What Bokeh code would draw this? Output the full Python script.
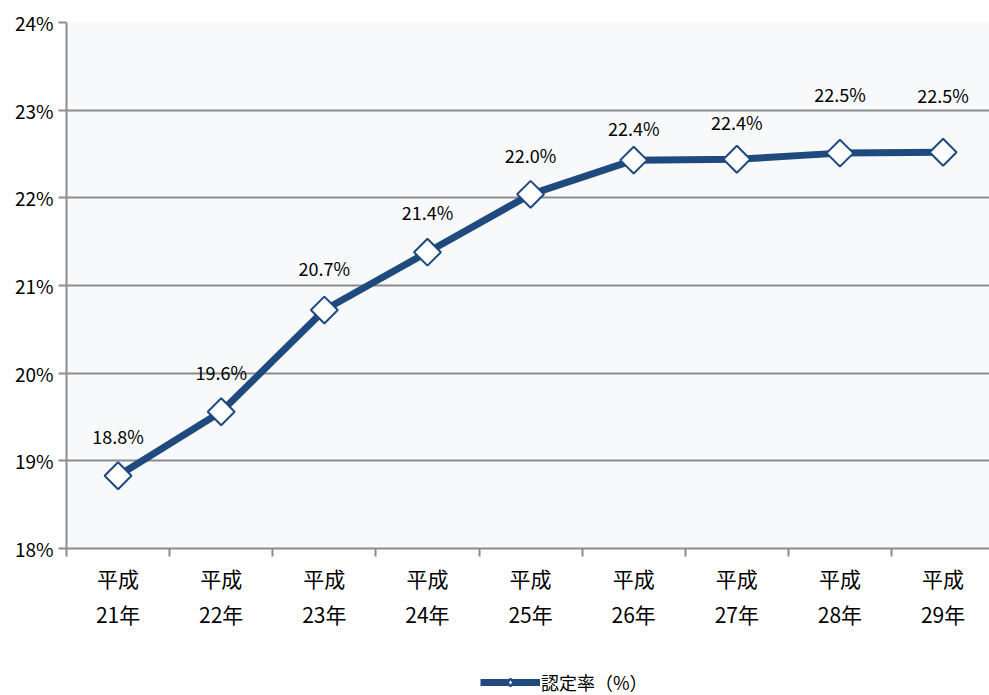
import math
from bokeh.plotting import figure
from bokeh.layouts import column
from bokeh.models import (ColumnDataSource, FixedTicker, PrintfTickFormatter, Range1d,
                          Legend, LegendItem)
from bokeh.core.properties import value
from bokeh.embed import file_html
from bokeh.resources import INLINE

# ---- data ----
categories = ["平成\n21年", "平成\n22年", "平成\n23年", "平成\n24年", "平成\n25年",
              "平成\n26年", "平成\n27年", "平成\n28年", "平成\n29年"]
rates = [18.83, 19.56, 20.72, 21.38, 22.04, 22.43, 22.44, 22.51, 22.52]
rate_labels = ["18.8%", "19.6%", "20.7%", "21.4%", "22.0%", "22.4%", "22.4%", "22.5%", "22.5%"]
y_ticks = [18, 19, 20, 21, 22, 23, 24]
series_name = "認定率（%）"

# ---- style ----
FONT = "Noto Sans CJK JP"
NAVY = "#1F4A7E"
GRID = "#8C8C8C"
label_offsets = [-40, -40, -42, -40, -39, -32, -37, -59, -57]

xs = list(range(1, len(categories) + 1))
src = ColumnDataSource(dict(x=xs, y=rates, lab=rate_labels, off=label_offsets))

p = figure(width=989, height=655, output_backend="svg", toolbar_location=None,
           x_range=Range1d(0.5, 9.45), y_range=Range1d(18, 24),
           min_border_left=66, min_border_top=22, min_border_right=0, min_border_bottom=107)

p.background_fill_color = "#F8F9FB"
p.border_fill_color = "white"
p.outline_line_color = None

# x axis
p.xaxis.ticker = FixedTicker(ticks=xs, minor_ticks=[i + 0.5 for i in range(0, len(xs) + 1)])
p.xaxis.major_label_overrides = {x: c for x, c in zip(xs, categories)}
p.xaxis.major_tick_out = 0
p.xaxis.major_tick_in = 0
p.xaxis.minor_tick_out = 8
p.xaxis.minor_tick_in = 0
p.xaxis.minor_tick_line_color = GRID
p.xaxis.minor_tick_line_width = 2
p.xaxis.axis_line_color = GRID
p.xaxis.axis_line_width = 2
p.xaxis.major_label_text_font = FONT
p.xaxis.major_label_text_font_size = "21px"
p.xaxis.major_label_text_color = "black"
p.xaxis.major_label_standoff = 6
p.xgrid.grid_line_color = None

# y axis
p.yaxis.ticker = FixedTicker(ticks=y_ticks, minor_ticks=[])
p.yaxis.formatter = PrintfTickFormatter(format="%d%%")
p.yaxis.major_tick_out = 8
p.yaxis.major_tick_in = 0
p.yaxis.major_tick_line_color = GRID
p.yaxis.major_tick_line_width = 2
p.yaxis.axis_line_color = GRID
p.yaxis.axis_line_width = 2
p.yaxis.major_label_text_font = FONT
p.yaxis.major_label_text_font_size = "19px"
p.yaxis.major_label_text_color = "black"
p.yaxis.major_label_standoff = 5
p.ygrid.grid_line_color = GRID
p.ygrid.grid_line_width = 2

p.line("x", "y", source=src, line_width=7, line_color=NAVY)
p.scatter("x", "y", source=src, marker="square", size=19, angle=math.pi / 4,
          fill_color="white", line_color=NAVY, line_width=2)

p.text("x", "y", text="lab", source=src, y_offset="off", text_align="center",
       text_baseline="middle", text_font=value(FONT), text_font_size="18px", text_color="black")

# ---- legend strip (its renderers share the data but fall outside this strip's view) ----
lg = figure(width=989, height=40, output_backend="svg", toolbar_location=None,
            x_axis_type=None, y_axis_type=None, min_border=0,
            x_range=Range1d(0, 1), y_range=Range1d(0, 1))
lg.outline_line_color = None
lg.grid.visible = False
l_line = lg.line("x", "y", source=src, line_width=7, line_color=NAVY)
l_pts = lg.scatter("x", "y", source=src, marker="diamond",
                   fill_color="white", line_color=NAVY, line_width=2)
legend = Legend(items=[LegendItem(label=series_name, renderers=[l_line, l_pts])],
                location=(414, 0), orientation="horizontal",
                background_fill_alpha=0, border_line_color=None,
                padding=0, margin=0, glyph_width=60, glyph_height=20, label_standoff=1,
                label_text_font=FONT, label_text_font_size="18px", label_text_color="black")
lg.add_layout(legend, "center")

layout = column(p, lg, spacing=0)
open("out.html", "w").write(file_html(layout, INLINE))
